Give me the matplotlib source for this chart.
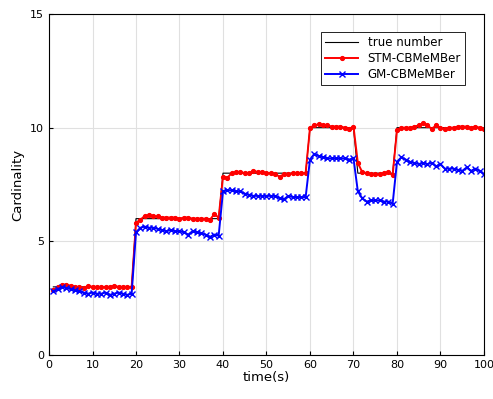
import numpy as np
import matplotlib.pyplot as plt

# time steps
t = np.arange(1, 101)

# true number of targets
true_num = [3] * 19 + [6] * 20 + [8] * 20 + [10] * 11 + [8] * 9 + [10] * 21

# STM-CBMeMBer estimate
stm = [2.85, 3.0, 3.1, 3.1, 3.05, 3.0, 3.0, 2.95, 3.05, 3.0,
       3.0, 3.0, 3.0, 3.0, 3.05, 3.0, 3.0, 3.0, 3.0,
       5.82, 5.95, 6.12, 6.15, 6.1, 6.1, 6.05, 6.05, 6.05, 6.05,
       6.0, 6.05, 6.05, 6.0, 6.0, 6.0, 6.0, 5.95, 6.2, 6.05,
       7.85, 7.8, 8.0, 8.05, 8.05, 8.0, 8.0, 8.1, 8.05, 8.05,
       8.0, 8.0, 7.95, 7.85, 7.95, 7.95, 8.0, 8.0, 8.0, 8.0,
       10.0, 10.1, 10.15, 10.1, 10.1, 10.05, 10.05, 10.05, 10.0, 9.95, 10.05,
       8.45, 8.05, 8.0, 7.95, 7.95, 7.95, 8.0, 8.05, 7.9,
       9.9, 10.0, 10.0, 10.0, 10.05, 10.1, 10.2, 10.1, 9.95, 10.1,
       10.0, 9.95, 10.0, 10.0, 10.05, 10.05, 10.05, 10.0, 10.05, 10.0, 9.95]

# GM-CBMeMBer estimate
gm = [2.8, 2.9, 3.0, 2.95, 2.9, 2.85, 2.8, 2.75, 2.7, 2.75,
      2.7, 2.7, 2.75, 2.65, 2.7, 2.75, 2.7, 2.65, 2.7,
      5.4, 5.6, 5.65, 5.6, 5.6, 5.55, 5.5, 5.45, 5.5, 5.45,
      5.45, 5.4, 5.3, 5.45, 5.4, 5.35, 5.3, 5.2, 5.3, 5.25,
      7.2, 7.25, 7.25, 7.2, 7.2, 7.1, 7.05, 7.0, 7.0, 7.0,
      7.0, 7.0, 7.0, 6.9, 6.85, 7.0, 6.95, 6.95, 6.95, 6.95,
      8.6, 8.85, 8.75, 8.7, 8.65, 8.65, 8.65, 8.65, 8.65, 8.6, 8.65,
      7.2, 6.9, 6.75, 6.8, 6.8, 6.8, 6.75, 6.75, 6.65,
      8.5, 8.7, 8.6, 8.5, 8.45, 8.4, 8.45, 8.4, 8.45, 8.3,
      8.4, 8.2, 8.2, 8.2, 8.15, 8.1, 8.25, 8.1, 8.2, 8.1, 7.95]

plt.rcParams['font.family'] = 'DejaVu Sans'
fig = plt.figure(figsize=(4.93, 3.99), dpi=100)
ax = fig.add_axes([0.0994, 0.110, 0.8823, 0.855])

ax.plot(t, true_num, color='black', linewidth=0.8, label='true number')
ax.plot(t, stm, color='red', linewidth=1.4, marker='.', markersize=5.5, label='STM-CBMeMBer')
ax.plot(t, gm, color='blue', linewidth=1.4, marker='x', markersize=4.5, markeredgewidth=1.0, label='GM-CBMeMBer')

ax.set_xlim(0, 100)
ax.set_ylim(0, 15)
ax.set_xticks(np.arange(0, 101, 10))
ax.set_yticks([0, 5, 10, 15])
ax.grid(True, color='#e0e0e0', linewidth=0.8)
ax.set_axisbelow(True)
ax.tick_params(direction='in', labelsize=8, length=3, top=False, right=False)
ax.set_xlabel('time(s)', fontsize=9.5, labelpad=1)
ax.set_ylabel('Cardinality', fontsize=9.5, labelpad=4)
for s in ax.spines.values():
    s.set_linewidth(0.8)

leg = ax.legend(loc='upper right', bbox_to_anchor=(0.97, 0.965), fontsize=8.5,
                fancybox=False, edgecolor='black', framealpha=1,
                handlelength=2.8, borderpad=0.35, labelspacing=0.25)
leg.get_frame().set_linewidth(0.6)

fig.savefig('out.png', dpi=100)
